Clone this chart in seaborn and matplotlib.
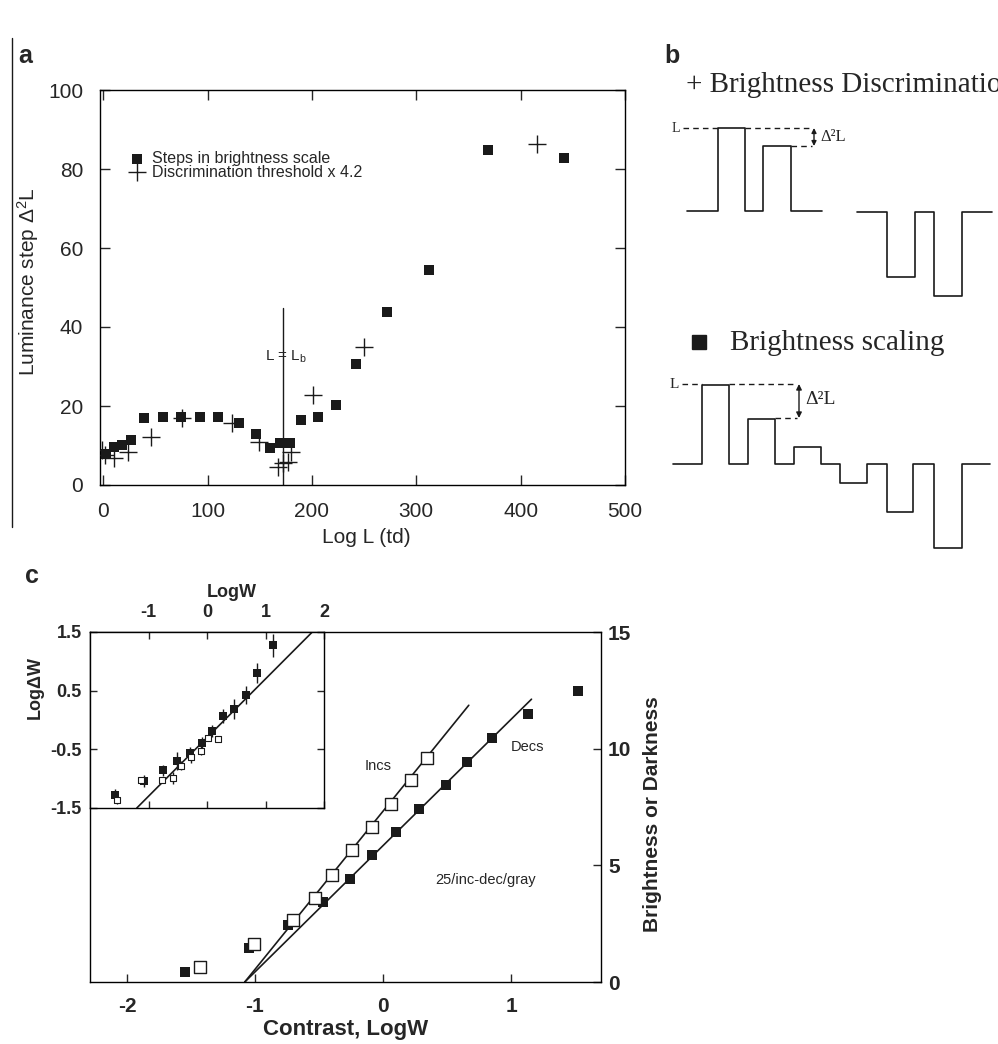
import matplotlib
matplotlib.use("Agg")
import matplotlib.pyplot as plt
import seaborn as sns

# ---- panel a: luminance steps vs log L ----
steps_x = [3, 10, 18, 27, 39, 57, 75, 93, 110, 130, 146, 160, 169, 179, 190, 206, 223, 242, 272, 312, 369, 442]
steps_y = [7.8, 9.7, 10.1, 11.4, 16.9, 17.1, 17.1, 17.1, 17.1, 15.8, 12.9, 9.3, 10.7, 10.7, 16.5, 17.1,
           20.3, 30.6, 43.9, 54.4, 84.8, 82.8]
thresh_x = [-1, 2, 10, 24, 46, 75.5, 123.5, 149, 168, 172.5, 177, 180, 201, 250, 416]
thresh_y = [8.9, 7.5, 6.8, 8.4, 12.2, 16.9, 15.8, 11.0, 4.6, 5.5, 5.9, 8.4, 22.8, 35.0, 86.3]
lb_x = 172.5
lb_top = 44.8

# ---- panel b: schematic stimuli (edges in canvas px, levels relative to baseline) ----
disc_inc_edges = [687, 718, 745, 763, 791, 822]
disc_inc_levels = [0, 83, 0, 65, 0]
disc_dec_edges = [857, 887, 915, 934, 962, 992]
disc_dec_levels = [0, -65, 0, -84, 0]
scale_edges = [673, 702, 729, 748, 775, 794, 821, 840, 867, 887, 913, 934, 962, 990]
scale_levels = [0, 79, 0, 45, 0, 17, 0, -19, 0, -48, 0, -84, 0]

# ---- panel c: brightness / darkness vs contrast ----
incs_x = [-1.43, -1.01, -0.705, -0.53, -0.40, -0.245, -0.083, 0.0625, 0.216, 0.34]
incs_y = [0.66, 1.62, 2.64, 3.60, 4.57, 5.64, 6.63, 7.64, 8.64, 9.61]
decs_x = [-1.55, -1.05, -0.74, -0.47, -0.258, -0.083, 0.10, 0.28, 0.49, 0.66, 0.854, 1.13, 1.52]
decs_y = [0.44, 1.45, 2.45, 3.42, 4.43, 5.46, 6.43, 7.43, 8.44, 9.44, 10.44, 11.47, 12.46]
incs_fit_x = [-1.08, 0.67]
incs_fit_y = [0.0, 11.86]
decs_fit_x = [-1.08, 1.16]
decs_fit_y = [0.0, 12.12]

# inset: log delta W vs log W
inset_dec_x = [-1.57, -1.075, -0.76, -0.52, -0.29, -0.09, 0.08, 0.27, 0.47, 0.66, 0.86, 1.13]
inset_dec_y = [-1.27, -1.045, -0.86, -0.70, -0.56, -0.39, -0.19, 0.07, 0.18, 0.43, 0.80, 1.27]
inset_dec_err = [0.1, 0.1, 0.1, 0.15, 0.1, 0.1, 0.1, 0.12, 0.17, 0.15, 0.17, 0.2]
inset_inc_x = [-1.53, -1.13, -0.77, -0.575, -0.44, -0.28, -0.10, 0.02, 0.19]
inset_inc_y = [-1.36, -1.03, -1.02, -0.99, -0.78, -0.63, -0.52, -0.31, -0.32]
inset_inc_err = [0.08, 0.05, 0.05, 0.1, 0.08, 0.1, 0.08, 0.05, 0.05]
inset_fit_x = [-1.2, 1.8]
inset_fit_y = [-1.5, 1.5]

W, H = 998, 1044


def frac(left, top, right, bottom):
    return [left / W, 1 - bottom / H, (right - left) / W, (bottom - top) / H]


def step_path(edges, levels, base):
    xs, ys = [], []
    for i, lvl in enumerate(levels):
        xs += [edges[i], edges[i + 1]]
        ys += [base - lvl, base - lvl]
    return xs, ys


sns.set_theme(style="ticks")
plt.rcParams["font.family"] = ["Liberation Sans", "DejaVu Sans"]
plt.rcParams["mathtext.fontset"] = "custom"
plt.rcParams["mathtext.rm"] = "Liberation Sans"
plt.rcParams["mathtext.it"] = "Liberation Sans:italic"
plt.rcParams["mathtext.bf"] = "Liberation Sans:bold"
plt.rcParams["axes.linewidth"] = 1.0
plt.rcParams["axes.edgecolor"] = "black"
plt.rcParams["axes.unicode_minus"] = False

fig = plt.figure(figsize=(W / 100, H / 100), dpi=100)

# full-figure canvas for schematics and panel letters
canvas = fig.add_axes([0, 0, 1, 1])
canvas.set_xlim(0, W)
canvas.set_ylim(H, 0)
canvas.axis("off")

serif = ["Liberation Serif", "DejaVu Serif"]
canvas.plot([12, 12], [38, 527], color="k", lw=1)
canvas.text(18, 63, "a", fontsize=18, fontweight="bold")
canvas.text(664, 63, "b", fontsize=18, fontweight="bold")
canvas.text(25, 583, "c", fontsize=18, fontweight="bold")

# brightness discrimination schematic (title runs off the right edge, as in the source)
canvas.text(686, 92, "+ Brightness Discrimination", family=serif, fontsize=21)
for edges, levels, base in [(disc_inc_edges, disc_inc_levels, 211), (disc_dec_edges, disc_dec_levels, 212)]:
    xs, ys = step_path(edges, levels, base)
    canvas.plot(xs, ys, color="k", lw=1.2)
canvas.plot([683, 718], [128, 128], color="k", lw=1, ls=(0, (4, 3)))
canvas.plot([745, 812], [128, 128], color="k", lw=1, ls=(0, (4, 3)))
canvas.plot([791, 812], [146, 146], color="k", lw=1, ls=(0, (4, 3)))
canvas.annotate("", xy=(814, 128), xytext=(814, 146),
                arrowprops=dict(arrowstyle="<|-|>", color="k", lw=1, mutation_scale=7, shrinkA=0, shrinkB=0))
canvas.text(680, 128, "L", family=serif, fontsize=10, ha="right", va="center")
canvas.text(820, 137, "Δ²L", family=serif, fontsize=12, va="center")

# brightness scaling schematic
canvas.plot([699], [342], marker="s", color="k", ms=10)
canvas.text(730, 350, "Brightness scaling", family=serif, fontsize=21)
xs, ys = step_path(scale_edges, scale_levels, 464)
canvas.plot(xs, ys, color="k", lw=1.2)
canvas.plot([682, 702], [384, 384], color="k", lw=1, ls=(0, (4, 3)))
canvas.plot([729, 797], [384, 384], color="k", lw=1, ls=(0, (4, 3)))
canvas.plot([775, 797], [418, 418], color="k", lw=1, ls=(0, (4, 3)))
canvas.annotate("", xy=(799, 384), xytext=(799, 418),
                arrowprops=dict(arrowstyle="<|-|>", color="k", lw=1, mutation_scale=8, shrinkA=0, shrinkB=0))
canvas.text(679, 384, "L", family=serif, fontsize=11, ha="right", va="center")
canvas.text(805, 400, "Δ²L", family=serif, fontsize=14, va="center")

# ---- panel a ----
ax_a = fig.add_axes(frac(100, 90, 625, 485))
sns.scatterplot(x=steps_x, y=steps_y, marker="s", color="k", s=45, linewidth=0, ax=ax_a,
                label="Steps in brightness scale", zorder=3)
sns.scatterplot(x=thresh_x, y=thresh_y, marker="+", color="k", s=150, linewidth=1, ax=ax_a,
                label="Discrimination threshold x 4.2", zorder=3)
ax_a.plot([lb_x, lb_x], [0, lb_top], color="k", lw=1)
ax_a.text(lb_x + 3, 32.4, "L = L$_\\mathrm{b}$", fontsize=11, ha="center", va="center")
ax_a.set_xlim(-3, 495)
ax_a.set_ylim(0, 100)
ax_a.set_xticks([0, 100, 200, 300, 400, 500])
ax_a.set_yticks([0, 20, 40, 60, 80, 100])
ax_a.tick_params(direction="in", top=True, right=True, length=7, width=1, labelsize=15, pad=12)
ax_a.set_xlabel("Log L (td)", fontsize=15, va="center")
ax_a.xaxis.set_label_coords(0.507, -0.134)
ax_a.set_ylabel("Luminance step Δ$^2$L", fontsize=15, ha="center", va="center")
ax_a.yaxis.set_label_coords(-0.137, 0.514)
ax_a.legend(loc="upper left", bbox_to_anchor=(0.059, 0.846), frameon=False, fontsize=11.5,
            handlelength=0.8, handletextpad=0.5, labelspacing=-0.08, borderpad=0, borderaxespad=0)

# ---- panel c ----
ax_c = fig.add_axes(frac(90, 632, 601, 982))
sns.lineplot(x=incs_fit_x, y=incs_fit_y, color="k", lw=1.2, ax=ax_c, zorder=2)
sns.lineplot(x=decs_fit_x, y=decs_fit_y, color="k", lw=1.2, ax=ax_c, zorder=2)
sns.scatterplot(x=decs_x, y=decs_y, marker="s", color="k", s=55, linewidth=0, ax=ax_c, zorder=3)
sns.scatterplot(x=incs_x, y=incs_y, marker="s", facecolor="white", edgecolor="k", s=75, linewidth=1,
                ax=ax_c, zorder=4)
ax_c.text(-0.04, 9.25, "Incs", fontsize=10.5, ha="center", va="center")
ax_c.text(1.13, 10.07, "Decs", fontsize=10.5, ha="center", va="center")
ax_c.text(0.80, 4.38, "25/inc-dec/gray", fontsize=10.5, ha="center", va="center")
ax_c.set_xlim(-2.289, 1.703)
ax_c.set_ylim(0, 15)
ax_c.set_xticks([-2, -1, 0, 1])
ax_c.set_yticks([0, 5, 10, 15])
ax_c.yaxis.tick_right()
ax_c.tick_params(direction="in", length=6, width=1, labelsize=15)
ax_c.tick_params(axis="x", pad=11)
ax_c.tick_params(axis="y", left=False, right=True, labelleft=False, labelright=True, pad=5)
for lab in ax_c.get_xticklabels() + ax_c.get_yticklabels():
    lab.set_fontweight("bold")
ax_c.set_xlabel("Contrast, LogW", fontsize=16, fontweight="bold", va="center")
ax_c.xaxis.set_label_coords(0.5, -0.137)
ax_c.yaxis.set_label_position("right")
ax_c.set_ylabel("Brightness or Darkness", fontsize=15, fontweight="bold", ha="center", va="center",
                rotation=90)
ax_c.yaxis.set_label_coords(1.10, 0.48)

# inset
ax_in = fig.add_axes(frac(90, 632, 324, 808))
ax_in.set_facecolor("white")
sns.lineplot(x=inset_fit_x, y=inset_fit_y, color="k", lw=1.2, ax=ax_in, zorder=2)
ax_in.errorbar(inset_inc_x, inset_inc_y, yerr=inset_inc_err, fmt="none", ecolor="k", elinewidth=1, zorder=2)
ax_in.errorbar(inset_dec_x, inset_dec_y, yerr=inset_dec_err, fmt="none", ecolor="k", elinewidth=1, zorder=2)
sns.scatterplot(x=inset_dec_x, y=inset_dec_y, marker="s", color="k", s=30, linewidth=0, ax=ax_in, zorder=3)
sns.scatterplot(x=inset_inc_x, y=inset_inc_y, marker="s", facecolor="white", edgecolor="k", s=16,
                linewidth=0.8, ax=ax_in, zorder=4)
ax_in.set_xlim(-2, 2)
ax_in.set_ylim(-1.5, 1.5)
ax_in.set_xticks([-1, 0, 1, 2])
ax_in.set_yticks([-1.5, -0.5, 0.5, 1.5])
ax_in.xaxis.tick_top()
ax_in.tick_params(direction="in", length=5, width=1, labelsize=13)
ax_in.tick_params(axis="x", top=True, bottom=True, labeltop=True, labelbottom=False, pad=8)
ax_in.tick_params(axis="y", left=True, right=True, pad=6)
for lab in ax_in.get_xticklabels() + ax_in.get_yticklabels():
    lab.set_fontweight("bold")
ax_in.xaxis.set_label_position("top")
ax_in.set_xlabel("LogW", fontsize=13, fontweight="bold", va="center")
ax_in.xaxis.set_label_coords(0.607, 1.227)
ax_in.set_ylabel("LogΔW", fontsize=13, fontweight="bold", ha="center", va="center")
ax_in.yaxis.set_label_coords(-0.235, 0.682)

fig.savefig("out.png", dpi=100)
